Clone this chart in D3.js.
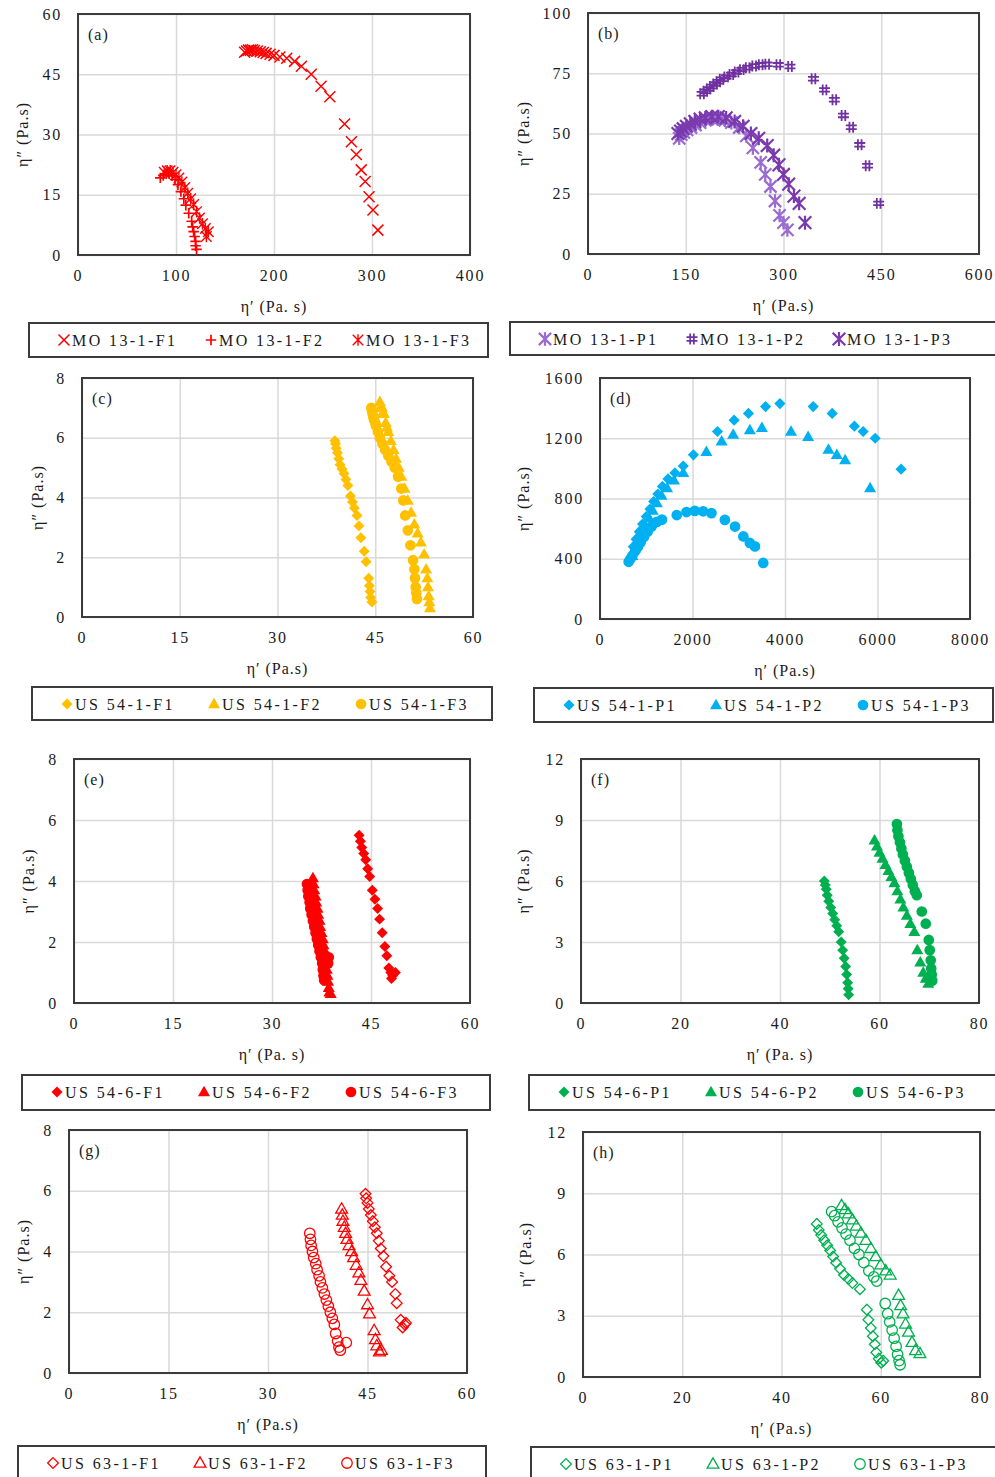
<!DOCTYPE html>
<meta charset="utf-8">
<style>
body { margin: 0; background: #fff; }
text { font-family: "Liberation Serif", "Times New Roman", serif; fill: #1a1a1a; }
.grid line { stroke: #d9d9d9; stroke-width: 1.5; }
.grid path { display: none; }
.lab path { display: none; }
.frame { fill: none; stroke: #3b3b3b; stroke-width: 2; }
</style>
<body>
<script src="https://cdn.jsdelivr.net/npm/d3@7"></script>
<script>
// [eta', eta''] pairs
var aF1 = [[170,50.5],[172,50.8],[174,51],[176,51],[178,51.1],[180,50.9],[183,50.8],[186,50.6],[189,50.4],[192,50.2],[196,50],[200,49.7],[206,49.3],[213,49],[221,48.2],[228,47],[238,45],[248,42],[257,39.4],[272,32.6],[279,28.2],[284,25],[289,21.2],[293,18.3],[297,14.5],[301,11.2],[306,6.2]];
var aF2 = [[84,19.2],[87,19.8],[90,20.2],[93,20.2],[96,19.7],[99,18.8],[102,17.5],[105,15.8],[108,14],[110,12.4],[113,10.4],[116,8.4],[117,7],[118,5.8],[119,4.6],[120,3.4],[120,2.3],[121,1.4]];
var aF3 = [[88,20.6],[91,21],[94,21],[97,20.6],[100,20],[103,19.2],[106,18.2],[109,16.8],[112,15.4],[115,14],[118,12.6],[121,10.8],[124,9.2],[127,7.8],[130,6.6],[133,5.8],[131,4.6]];

var bP1 = [[140,48],[143,49.5],[147,50.5],[152,51.5],[158,52.5],[165,53.5],[172,54.5],[180,55.5],[190,56],[200,56],[210,55.5],[220,54.5],[232,52.5],[243,49],[253,44],[265,38],[272,33],[280,28],[287,22],[294,16],[300,13],[306,10]];
var bP2 = [[175,66.5],[180,67.5],[185,68.5],[190,69.5],[195,70.5],[200,71.5],[205,72.5],[212,73.5],[220,74.5],[228,75.5],[236,76.5],[245,77.3],[255,78],[265,78.5],[275,78.7],[292,78.5],[310,77.8],[346,72.7],[363,68.1],[378,64],[392,57.5],[404,52.6],[417,45.3],[429,36.6],[446,21]];
var bP3 = [[138,50],[142,51],[146,52],[151,53],[157,54],[164,55],[172,56],[180,56.5],[190,57],[200,57],[212,56.5],[225,55],[238,53],[250,50],[262,48],[275,45],[285,41],[293,37],[300,33],[308,29],[316,24],[324,21],[333,13]];

var cF1 = [[38.8,5.9],[38.9,5.8],[39,5.65],[39.2,5.5],[39.4,5.3],[39.6,5.1],[39.9,4.95],[40.2,4.8],[40.5,4.6],[40.8,4.4],[41.2,4.05],[41.5,3.85],[41.8,3.65],[42.2,3.4],[42.5,3.05],[42.8,2.65],[43.3,2.2],[43.6,1.85],[44,1.3],[44.1,1.05],[44.2,0.85],[44.3,0.65],[44.5,0.5]];
var cF2 = [[45.7,7.2],[45.9,7.05],[46,7],[46.2,6.85],[46.3,6.8],[46.6,6.5],[46.8,6.35],[47,6.2],[47.4,5.9],[47.8,5.6],[48.2,5.3],[48.6,5],[49,4.7],[49.5,4.3],[50,3.9],[50.5,3.5],[51,3.1],[51.5,2.8],[52,2.5],[52.5,2.1],[52.8,1.6],[53,1.3],[53.1,1],[53.2,0.7],[53.3,0.5],[53.4,0.3]];
var cF3 = [[44.4,7],[44.5,6.9],[44.6,6.8],[44.7,6.7],[44.8,6.6],[45,6.5],[45.1,6.4],[45.4,6.2],[45.7,6],[46.1,5.8],[46.5,5.6],[47,5.4],[47.5,5.2],[48,5],[48.5,4.7],[49,4.3],[49.3,3.9],[49.6,3.4],[50,2.9],[50.4,2.4],[50.8,1.9],[51,1.6],[51.1,1.3],[51.2,1],[51.3,0.8],[51.4,0.6]];

var dP1 = [[720,480],[780,530],[850,580],[920,630],[1000,680],[1080,730],[1160,780],[1250,830],[1350,880],[1470,930],[1620,970],[1800,1015],[2020,1090],[2540,1245],[2900,1320],[3210,1365],[3580,1410],[3890,1430],[4610,1410],[5020,1365],[5500,1280],[5690,1245],[5950,1200],[6510,995]];
var dP2 = [[700,420],[760,470],[830,520],[900,570],[980,620],[1060,670],[1140,720],[1230,770],[1330,820],[1450,870],[1600,920],[1800,970],[2300,1110],[2630,1180],[2880,1225],[3240,1255],[3500,1270],[4130,1245],[4500,1210],[4940,1125],[5120,1090],[5300,1055],[5840,870]];
var dP3 = [[620,380],[660,400],[700,420],[760,450],[820,480],[880,510],[950,545],[1030,580],[1120,615],[1230,645],[1340,660],[1660,690],[1870,710],[2050,718],[2230,715],[2410,703],[2700,658],[2920,614],[3100,548],[3240,505],[3350,482],[3530,372]];

var eF1 = [[43.2,5.5],[43.4,5.3],[43.6,5.1],[43.9,4.9],[44.2,4.7],[44.5,4.4],[44.8,4.15],[45.2,3.7],[45.6,3.4],[46,3.1],[46.3,2.75],[46.7,2.3],[47.1,1.85],[47.4,1.55],[47.7,1.15],[48,1],[48.3,0.9],[48.1,0.8],[48.7,1]];
var eF2 = [[36.2,4.1],[36.3,3.9],[36.4,3.7],[36.6,3.5],[36.7,3.3],[36.9,3.1],[37,2.9],[37.2,2.7],[37.3,2.5],[37.5,2.3],[37.7,2.1],[37.8,1.9],[38,1.7],[38.1,1.5],[38.2,1.3],[38.3,1.1],[38.4,0.9],[38.5,0.7],[38.6,0.5],[38.7,0.35],[38.9,0.3]];
var eF3 = [[35.3,3.9],[35.4,3.7],[35.5,3.5],[35.7,3.3],[35.8,3.1],[36,2.9],[36.2,2.7],[36.4,2.5],[36.6,2.3],[36.8,2.1],[37,1.9],[37.2,1.7],[37.4,1.5],[37.6,1.3],[37.7,1.1],[37.8,0.9],[37.9,0.75],[38.6,1.5],[38.5,1.3]];

var fP1 = [[48.9,6],[49.1,5.8],[49.3,5.6],[49.5,5.3],[49.8,5],[50.2,4.7],[50.6,4.4],[51,4.1],[51.4,3.8],[51.8,3.5],[52.3,3],[52.6,2.6],[52.9,2.2],[53.2,1.8],[53.4,1.4],[53.6,1],[53.7,0.7],[53.8,0.4]];
var fP2 = [[59,8],[59.5,7.7],[60,7.4],[60.6,7.1],[61.2,6.8],[61.8,6.5],[62.4,6.2],[63,5.9],[63.6,5.5],[64.2,5.1],[64.8,4.7],[65.5,4.3],[66.2,3.9],[67,3.5],[67.6,2.6],[68.2,2],[68.8,1.5],[69.3,1.2],[69.8,0.95]];
var fP3 = [[63.5,8.8],[63.6,8.5],[63.8,8.2],[64.1,7.9],[64.4,7.6],[64.7,7.3],[65.1,7],[65.5,6.7],[65.9,6.4],[66.3,6.1],[66.7,5.8],[67.1,5.5],[67.5,5.3],[68.5,4.5],[69.3,3.9],[69.9,3.1],[70.1,2.6],[70.3,2.1],[70.4,1.7],[70.5,1.4],[70.6,1.1]];

var gF1 = [[44.7,5.9],[44.8,5.75],[45,5.6],[45.2,5.4],[45.5,5.2],[45.8,5],[46.1,4.8],[46.4,4.6],[46.7,4.35],[47,4.1],[47.4,3.85],[47.8,3.5],[48.3,3.2],[48.7,3],[49.2,2.6],[49.4,2.3],[50,1.75],[50.3,1.5],[50.6,1.6],[50.8,1.65]];
var gF2 = [[41.1,5.4],[41.2,5.2],[41.3,5],[41.5,4.8],[41.7,4.6],[41.9,4.4],[42.2,4.2],[42.6,4],[42.9,3.8],[43.3,3.55],[43.7,3.3],[44,3.05],[44.5,2.7],[45,2.25],[45.3,1.95],[46,1.4],[46.2,1.1],[46.4,0.9],[46.8,0.7],[47.1,0.75]];
var gF3 = [[36.3,4.6],[36.4,4.4],[36.5,4.2],[36.7,4],[36.9,3.8],[37.2,3.6],[37.4,3.4],[37.7,3.2],[37.9,3],[38.2,2.8],[38.5,2.6],[38.8,2.4],[39.1,2.2],[39.4,2],[39.7,1.8],[40,1.6],[40.2,1.3],[40.5,1.05],[40.7,0.85],[40.9,0.75],[41.8,1]];

var hP1 = [[47.1,7.5],[47.5,7.2],[48,6.95],[48.6,6.7],[49.2,6.45],[49.8,6.2],[50.4,5.9],[51,5.6],[51.8,5.3],[52.6,5],[53.5,4.8],[54.3,4.6],[55.8,4.3],[57.2,3.3],[57.5,2.8],[58,2.4],[58.4,2],[58.8,1.6],[59.1,1.2],[59.6,0.9],[60.1,0.7],[60.5,0.8]];
var hP2 = [[52.1,8.4],[52.8,8.2],[53.5,8],[54.3,7.7],[55.1,7.4],[56,7.05],[57,6.7],[58,6.3],[59,5.9],[60,5.5],[61,5.2],[61.9,5],[63.6,4],[64,3.5],[64.5,3.1],[65,2.6],[65.6,2.2],[66.3,1.7],[67,1.3],[67.9,1.15]];
var hP3 = [[50.1,8.1],[50.7,7.9],[51.4,7.6],[52.2,7.3],[53,7],[53.8,6.7],[54.7,6.3],[55.6,6],[56.6,5.6],[57.6,5.2],[58.6,4.9],[59.2,4.7],[60.9,3.6],[61.4,3.1],[61.8,2.7],[62.3,2.3],[62.7,1.9],[63.1,1.5],[63.4,1.1],[63.7,0.8],[63.9,0.6]];

// tick labels
var xTicks400 = [0,100,200,300,400], xTicks600 = [0,150,300,450,600], xTicks60 = [0,15,30,45,60];
var xTicks8000 = [0,2000,4000,6000,8000], xTicks80 = [0,20,40,60,80];
var yTicks60 = [0,15,30,45,60], yTicks100 = [0,25,50,75,100], yTicks8 = [0,2,4,6,8];
var yTicks1600 = [0,400,800,1200,1600], yTicks12 = [0,3,6,9,12];

// series names
var namesA = ["MO 13-1-F1","MO 13-1-F2","MO 13-1-F3"];
var namesB = ["MO 13-1-P1","MO 13-1-P2","MO 13-1-P3"];
var namesC = ["US 54-1-F1","US 54-1-F2","US 54-1-F3"];
var namesD = ["US 54-1-P1","US 54-1-P2","US 54-1-P3"];
var namesE = ["US 54-6-F1","US 54-6-F2","US 54-6-F3"];
var namesF = ["US 54-6-P1","US 54-6-P2","US 54-6-P3"];
var namesG = ["US 63-1-F1","US 63-1-F2","US 63-1-F3"];
var namesH = ["US 63-1-P1","US 63-1-P2","US 63-1-P3"];

// marker shapes, size = width squared
var symDiamond = { draw: function(c, s) { var r = Math.sqrt(s) / 2; c.moveTo(0,-r); c.lineTo(r,0); c.lineTo(0,r); c.lineTo(-r,0); c.closePath(); } };
var symTriangle = { draw: function(c, s) { var w = Math.sqrt(s), h = w * 0.87; c.moveTo(0,-h*0.6); c.lineTo(w/2,h*0.4); c.lineTo(-w/2,h*0.4); c.closePath(); } };
var symCircle = { draw: function(c, s) { var r = Math.sqrt(s) / 2; c.moveTo(r,0); c.arc(0,0,r,0,2*Math.PI); } };
var symX = { draw: function(c, s) { var r = Math.sqrt(s) / 2; c.moveTo(-r,-r); c.lineTo(r,r); c.moveTo(-r,r); c.lineTo(r,-r); } };
var symPlus = { draw: function(c, s) { var r = Math.sqrt(s) / 2; c.moveTo(-r,0); c.lineTo(r,0); c.moveTo(0,-r); c.lineTo(0,r); } };
var symStar = { draw: function(c, s) { var r = Math.sqrt(s) / 2; c.moveTo(-r,-r); c.lineTo(r,r); c.moveTo(-r,r); c.lineTo(r,-r); c.moveTo(0,-r*1.1); c.lineTo(0,r*1.1); } };
var symHash = { draw: function(c, s) { var r = Math.sqrt(s) / 2, q = r / 3; c.moveTo(-q,-r); c.lineTo(-q,r); c.moveTo(q,-r); c.lineTo(q,r); c.moveTo(-r,-q); c.lineTo(r,-q); c.moveTo(-r,q); c.lineTo(r,q); } };

var red = "#ff0000", gold = "#ffc000", blue = "#00b0f0", green = "#00b050";

function filled(type, col, sz) { return {type: type, size: sz, fill: col, stroke: "none", sw: 0}; }
function line(type, col, sz, sw) { return {type: type, size: sz, fill: "none", stroke: col, sw: sw}; }

var panels = [
  {tag:"(a)", x0:78, x1:470, y0:14, y1:255, xd:[0,400], yd:[0,60], xt:xTicks400, yt:yTicks60, ytx:22, xtitle:"η′ (Pa. s)",
   leg:[29,323,459,34], names:namesA, data:[aF1,aF2,aF3],
   marks:[line(symX,red,121,1.5), line(symPlus,red,110,1.7), line(symStar,red,110,1.4)]},
  {tag:"(b)", x0:588, x1:979, y0:13, y1:254, xd:[0,600], yd:[0,100], xt:xTicks600, yt:yTicks100, ytx:523, xtitle:"η′ (Pa.s)",
   leg:[510,322,495,33], names:namesB, data:[bP1,bP2,bP3],
   marks:[line(symStar,"#9a6bd0",150,2.2), line(symHash,"#7030a0",120,1.8), line(symStar,"#7a3aae",160,2.2)]},
  {tag:"(c)", x0:82, x1:473, y0:378, y1:617, xd:[0,60], yd:[0,8], xt:xTicks60, yt:yTicks8, ytx:37, xtitle:"η′ (Pa.s)",
   leg:[32,687,460,33], names:namesC, data:[cF1,cF2,cF3],
   marks:[filled(symDiamond,gold,120), filled(symTriangle,gold,145), filled(symCircle,gold,115)]},
  {tag:"(d)", x0:600, x1:970, y0:378, y1:619, xd:[0,8000], yd:[0,1600], xt:xTicks8000, yt:yTicks1600, ytx:523, xtitle:"η′ (Pa.s)",
   leg:[534,688,459,34], names:namesD, data:[dP1,dP2,dP3],
   marks:[filled(symDiamond,blue,125), filled(symTriangle,blue,145), filled(symCircle,blue,115)]},
  {tag:"(e)", x0:74, x1:470, y0:759, y1:1003, xd:[0,60], yd:[0,8], xt:xTicks60, yt:yTicks8, ytx:28, xtitle:"η′ (Pa. s)",
   leg:[22,1075,468,35], names:namesE, data:[eF1,eF2,eF3],
   marks:[filled(symDiamond,red,120), filled(symTriangle,red,145), filled(symCircle,red,115)]},
  {tag:"(f)", x0:581, x1:979, y0:759, y1:1003, xd:[0,80], yd:[0,12], xt:xTicks80, yt:yTicks12, ytx:523, xtitle:"η′ (Pa. s)",
   leg:[529,1075,480,35], names:namesF, data:[fP1,fP2,fP3],
   marks:[filled(symDiamond,green,120), filled(symTriangle,green,145), filled(symCircle,green,115)]},
  {tag:"(g)", x0:69, x1:467, y0:1130, y1:1373, xd:[0,60], yd:[0,8], xt:xTicks60, yt:yTicks8, ytx:23, xtitle:"η′ (Pa.s)",
   leg:[18,1446,468,40], names:namesG, data:[gF1,gF2,gF3],
   marks:[line(symDiamond,red,115,1.3), line(symTriangle,red,140,1.3), line(symCircle,red,110,1.3)]},
  {tag:"(h)", x0:583, x1:980, y0:1132, y1:1377, xd:[0,80], yd:[0,12], xt:xTicks80, yt:yTicks12, ytx:525, xtitle:"η′ (Pa.s)",
   leg:[531,1447,480,40], names:namesH, data:[hP1,hP2,hP3],
   marks:[line(symDiamond,green,115,1.3), line(symTriangle,green,140,1.3), line(symCircle,green,110,1.3)]}
];

var svg = d3.select("body").append("svg")
    .attr("width", 995)
    .attr("height", 1477);

panels.forEach(function(p) {
  var x = d3.scaleLinear().domain(p.xd).range([p.x0, p.x1]);
  var y = d3.scaleLinear().domain(p.yd).range([p.y1, p.y0]);
  var g = svg.append("g");

  // gridlines
  g.append("g").attr("class", "grid")
      .attr("transform", "translate(0," + p.y1 + ")")
      .call(d3.axisBottom(x).tickValues(p.xt).tickSize(-(p.y1 - p.y0)).tickFormat(""));
  g.append("g").attr("class", "grid")
      .attr("transform", "translate(" + p.x0 + ",0)")
      .call(d3.axisLeft(y).tickValues(p.yt).tickSize(-(p.x1 - p.x0)).tickFormat(""));

  g.append("rect").attr("class", "frame")
      .attr("x", p.x0).attr("y", p.y0)
      .attr("width", p.x1 - p.x0).attr("height", p.y1 - p.y0);

  // tick labels
  var xa = g.append("g").attr("class", "lab")
      .attr("transform", "translate(0," + p.y1 + ")")
      .call(d3.axisBottom(x).tickValues(p.xt).tickSize(0).tickPadding(15).tickFormat(d3.format("d")));
  var ya = g.append("g").attr("class", "lab")
      .attr("transform", "translate(" + p.x0 + ",0)")
      .call(d3.axisLeft(y).tickValues(p.yt).tickSize(0).tickPadding(16).tickFormat(d3.format("d")));
  [xa, ya].forEach(function(a) {
    a.attr("font-family", null).attr("font-size", 16);
    a.selectAll("text").attr("fill", "#1a1a1a").style("letter-spacing", "1.8px");
  });

  // axis titles and panel tag
  g.append("text")
      .attr("x", (p.x0 + p.x1) / 2).attr("y", p.y1 + 51)
      .attr("text-anchor", "middle").attr("dominant-baseline", "central")
      .style("font-size", "16px").style("letter-spacing", "1px")
      .text(p.xtitle);
  g.append("text")
      .attr("transform", "translate(" + p.ytx + "," + (p.y0 + p.y1) / 2 + ") rotate(-90)")
      .attr("text-anchor", "middle").attr("dominant-baseline", "central")
      .style("font-size", "16px").style("letter-spacing", "1px")
      .text("η″ (Pa.s)");
  g.append("text")
      .attr("x", p.x0 + 10).attr("y", p.y0 + 26)
      .style("font-size", "16px").style("letter-spacing", "1px")
      .text(p.tag);

  // points
  p.data.forEach(function(series, i) {
    var m = p.marks[i];
    var sym = d3.symbol().type(m.type).size(m.size);
    g.append("g").selectAll("path")
        .data(series)
      .enter().append("path")
        .attr("transform", function(d) { return "translate(" + x(d[0]) + "," + y(d[1]) + ")"; })
        .attr("d", sym)
        .attr("fill", m.fill)
        .attr("stroke", m.stroke)
        .attr("stroke-width", m.sw);
  });

  // legend
  var L = p.leg;
  g.append("rect").attr("class", "frame")
      .attr("x", L[0]).attr("y", L[1]).attr("width", L[2]).attr("height", L[3]);
  var cy = L[1] + 17;
  p.names.forEach(function(name, i) {
    var m = p.marks[i], cx = L[0] + 35 + i * 147;
    g.append("path")
        .attr("transform", "translate(" + cx + "," + cy + ")")
        .attr("d", d3.symbol().type(m.type).size(m.size)())
        .attr("fill", m.fill)
        .attr("stroke", m.stroke)
        .attr("stroke-width", m.sw);
    g.append("text")
        .attr("x", cx + 8).attr("y", cy)
        .attr("dominant-baseline", "central")
        .style("font-size", "16px").style("letter-spacing", "2.4px")
        .text(name);
  });
});
</script>
</body>
